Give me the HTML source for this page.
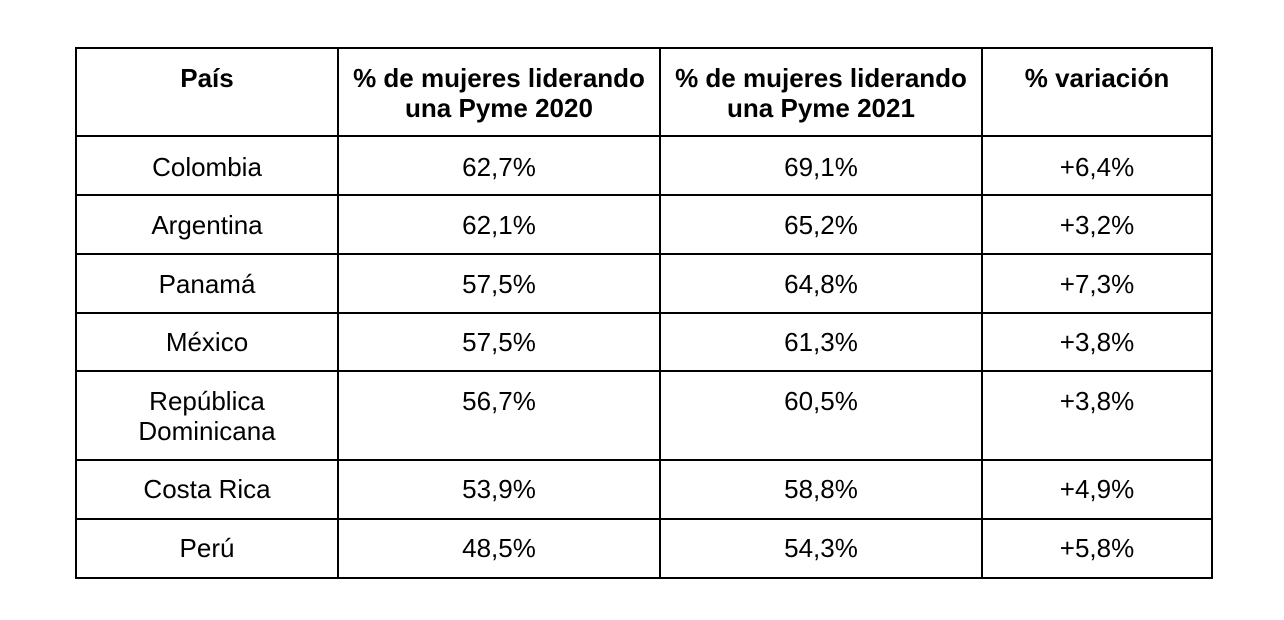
<!DOCTYPE html>
<html><head><meta charset="utf-8"><style>
body{margin:0;width:1284px;height:620px;background:#fff;position:relative;font-family:"Liberation Sans",Arial,sans-serif;color:#000;overflow:hidden}
.h{position:absolute;height:2px;background:#000;left:75px;width:1138px}
.v{position:absolute;width:2px;background:#000;top:47px;height:532px}
.c{position:absolute;text-align:center;font-size:26px;line-height:30px}
.b{font-weight:bold}
</style></head><body>
<div class="h" style="top:47px"></div>
<div class="h" style="top:135px"></div>
<div class="h" style="top:194px"></div>
<div class="h" style="top:253px"></div>
<div class="h" style="top:312px"></div>
<div class="h" style="top:370px"></div>
<div class="h" style="top:459px"></div>
<div class="h" style="top:518px"></div>
<div class="h" style="top:577px"></div>
<div class="v" style="left:75px"></div>
<div class="v" style="left:337px"></div>
<div class="v" style="left:659px"></div>
<div class="v" style="left:981px"></div>
<div class="v" style="left:1211px"></div>

<div class="c b" style="left:77px;width:260px;top:63px">País</div>
<div class="c b" style="left:339px;width:320px;top:63px">% de mujeres liderando<br>una Pyme 2020</div>
<div class="c b" style="left:661px;width:320px;top:63px">% de mujeres liderando<br>una Pyme 2021</div>
<div class="c b" style="left:983px;width:228px;top:63px">% variación</div>

<div class="c" style="left:77px;width:260px;top:152px">Colombia</div>
<div class="c" style="left:339px;width:320px;top:152px">62,7%</div>
<div class="c" style="left:661px;width:320px;top:152px">69,1%</div>
<div class="c" style="left:983px;width:228px;top:152px">+6,4%</div>

<div class="c" style="left:77px;width:260px;top:210px">Argentina</div>
<div class="c" style="left:339px;width:320px;top:210px">62,1%</div>
<div class="c" style="left:661px;width:320px;top:210px">65,2%</div>
<div class="c" style="left:983px;width:228px;top:210px">+3,2%</div>

<div class="c" style="left:77px;width:260px;top:269px">Panamá</div>
<div class="c" style="left:339px;width:320px;top:269px">57,5%</div>
<div class="c" style="left:661px;width:320px;top:269px">64,8%</div>
<div class="c" style="left:983px;width:228px;top:269px">+7,3%</div>

<div class="c" style="left:77px;width:260px;top:327px">México</div>
<div class="c" style="left:339px;width:320px;top:327px">57,5%</div>
<div class="c" style="left:661px;width:320px;top:327px">61,3%</div>
<div class="c" style="left:983px;width:228px;top:327px">+3,8%</div>

<div class="c" style="left:77px;width:260px;top:386px">República<br>Dominicana</div>
<div class="c" style="left:339px;width:320px;top:386px">56,7%</div>
<div class="c" style="left:661px;width:320px;top:386px">60,5%</div>
<div class="c" style="left:983px;width:228px;top:386px">+3,8%</div>

<div class="c" style="left:77px;width:260px;top:474px">Costa Rica</div>
<div class="c" style="left:339px;width:320px;top:474px">53,9%</div>
<div class="c" style="left:661px;width:320px;top:474px">58,8%</div>
<div class="c" style="left:983px;width:228px;top:474px">+4,9%</div>

<div class="c" style="left:77px;width:260px;top:533px">Perú</div>
<div class="c" style="left:339px;width:320px;top:533px">48,5%</div>
<div class="c" style="left:661px;width:320px;top:533px">54,3%</div>
<div class="c" style="left:983px;width:228px;top:533px">+5,8%</div>
</body></html>
